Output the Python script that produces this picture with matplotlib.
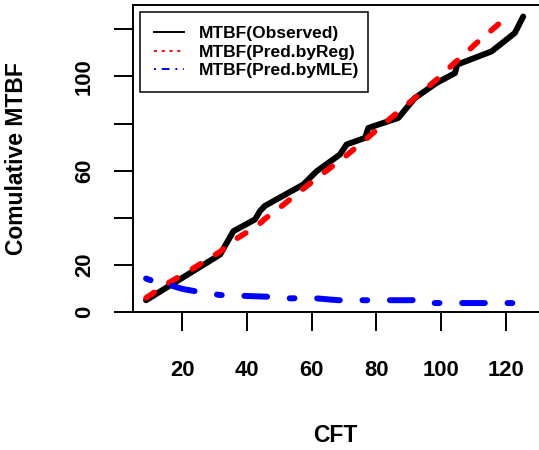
import matplotlib
matplotlib.use('Agg')
import matplotlib.pyplot as plt
from matplotlib.lines import Line2D

plt.rcParams['font.family'] = ['Liberation Sans', 'DejaVu Sans']
plt.rcParams['font.weight'] = 'bold'

# observed cumulative MTBF
cft_obs = [8.8, 31.7, 35.8, 42.5, 44.0, 45.5, 57.4, 61.5, 68.7, 70.8, 76.5, 77.5,
           86.8, 91.9, 98.6, 104.3, 105.0, 115.6, 122.8, 125.4]
mtbf_obs = [5.0, 24.4, 34.3, 39.3, 42.8, 45.0, 54.1, 59.7, 66.8, 71.1, 73.9, 78.1,
            82.4, 90.8, 97.2, 101.4, 105.0, 110.6, 118.4, 125.4]

# predicted by regression
cft_reg = [8.8, 15.7, 22.9, 31.7, 35.8, 42.5, 44.0, 45.5, 50.7, 57.4, 61.5, 68.7, 70.8,
           76.5, 79.6, 86.8, 91.9, 98.6, 104.3, 105.0, 111.5, 115.6, 121.0]
mtbf_reg = [6.0, 12.3, 18.1, 25.6, 30.3, 36.0, 37.6, 39.5, 44.9, 52.3, 56.7, 64.3, 66.5,
            73.0, 76.7, 85.0, 90.8, 98.6, 105.9, 106.7, 114.8, 119.6, 126.0]

# predicted by MLE
cft_mle = [8.8, 11.0, 16.2, 20.0, 24.9, 31.7, 46.1, 53.3, 60.5, 68.2, 75.0, 89.4,
           95.5, 97.6, 111.0, 125.4]
mtbf_mle = [14.2, 13.1, 11.4, 9.8, 8.6, 7.2, 6.5, 5.8, 5.9, 5.0, 5.0, 5.0,
            5.1, 3.8, 3.8, 3.8]

xticks = [20, 40, 60, 80, 100, 120]
yticks = [0, 20, 40, 60, 80, 100, 120]
ytick_labels = ['0', '20', '', '60', '', '100', '']
labels = ['MTBF(Observed)', 'MTBF(Pred.byReg)', 'MTBF(Pred.byMLE)']

fig = plt.figure(figsize=(5.39, 4.5), dpi=100)
ax = fig.add_axes([133 / 539, (450 - 312) / 450, (541 - 133) / 539, (312 - 5) / 450])

ax.plot(cft_obs, mtbf_obs, color='black', lw=4.3,
        solid_capstyle='round', solid_joinstyle='round')
ax.plot(cft_reg, mtbf_reg, color='red', lw=4.1, linestyle=(0, (1.7, 3.1)),
        dash_capstyle='round', dash_joinstyle='round')
ax.plot(cft_mle, mtbf_mle, color='blue', lw=4.3, linestyle=(0, (0.8, 3.8, 3.8, 3.8)),
        dash_capstyle='round', dash_joinstyle='round')

ax.set_xlim(4.76, 130.9)
ax.set_ylim(0, 130.3)
ax.set_xticks(xticks)
ax.set_xticklabels([str(v) for v in xticks])
ax.set_yticks(yticks)
ax.set_yticklabels(ytick_labels, rotation=90, va='center')
ax.tick_params(axis='both', direction='out', length=13.5, width=1.4,
               labelsize=15.8, color='black')
ax.tick_params(axis='x', pad=21)
ax.tick_params(axis='y', pad=14)
for s in ax.spines.values():
    s.set_linewidth(1.4)
    s.set_color('black')

fig.text(335.5 / 539, 1 - 435 / 450, 'CFT', ha='center', va='center',
         fontsize=16.5, fontweight='bold')
fig.text(16.5 / 539, 1 - 158.5 / 450, 'Comulative MTBF', ha='center', va='center',
         rotation=90, fontsize=16.5, fontweight='bold')

handles = [
    Line2D([], [], color='black', lw=1.4),
    Line2D([], [], color='red', lw=1.4, linestyle=(0, (1.5, 2.5))),
    Line2D([], [], color='blue', lw=1.4, linestyle=(0, (1, 3, 4, 3))),
]
leg = ax.legend(handles, labels, loc='upper left',
                bbox_to_anchor=(140 / 539, 1 - 12 / 450, (368 - 140) / 539, 0),
                bbox_transform=fig.transFigure, mode='expand', borderaxespad=0,
                handlelength=1.75, handletextpad=0.85, borderpad=0.8,
                labelspacing=0.2, fancybox=False, framealpha=1,
                prop={'weight': 'bold', 'size': 12.5})
leg.get_frame().set_edgecolor('black')
leg.get_frame().set_linewidth(1.1)

fig.savefig('out.png', dpi=100)
